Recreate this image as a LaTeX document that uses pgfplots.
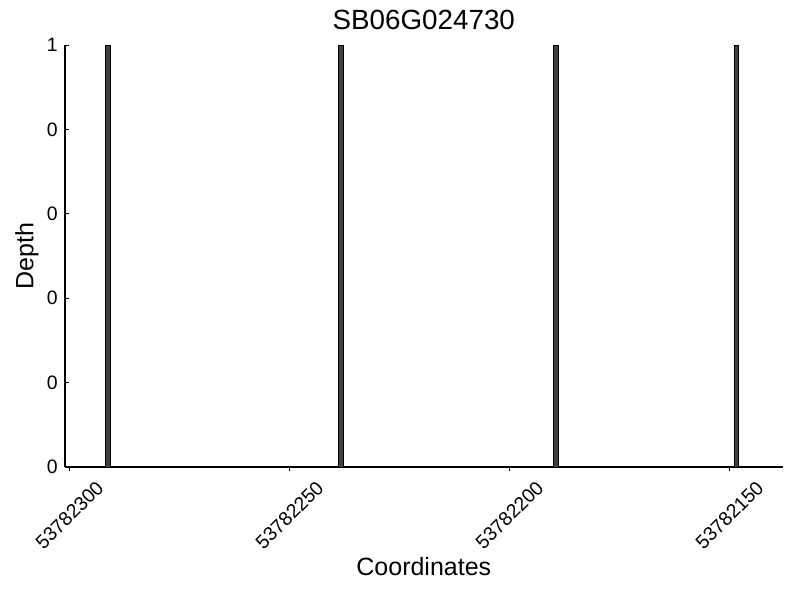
\documentclass[border=0pt]{standalone}
\usepackage{pgfplots}
\pgfplotsset{compat=1.18}
\usepackage{fontspec}
\setmainfont{Liberation Sans}
\begin{document}
\begin{tikzpicture}
\useasboundingbox (0,0) rectangle (576pt,432pt);
\begin{axis}[
  at={(46.8pt,95.76pt)}, anchor=south west,
  scale only axis, width=516.7pt, height=303.84pt,
  x dir=reverse,
  xmin=137.9, xmax=301,
  ymin=0, ymax=1,
  axis lines*=left,
  axis line style={line width=0.8pt},
  tick align=inside,
  major tick length=3pt,
  tick style={line width=0.6pt, black},
  xtick={150,200,250,300},
  xticklabels={53782150,53782200,53782250,53782300},
  ytick={0,0.2,0.4,0.6,0.8,1},
  yticklabels={0,0,0,0,0,1},
  /pgf/number format/assume math mode=true,
  ticklabel style={font=\fontsize{14}{16}\selectfont},
  xticklabel style={yshift=-31.7pt, rotate=45, anchor=center},
  yticklabel style={anchor=east, inner sep=0pt, xshift=-5pt},
  xlabel={Coordinates},
  ylabel={Depth},
  xlabel style={at={(axis description cs:0.5,-0.237)}, anchor=center, font=\fontsize{18}{21}\selectfont},
  ylabel style={at={(axis description cs:-0.053,0.5)}, rotate=0, anchor=center, font=\fontsize{18}{21}\selectfont},
  title={SB06G024730},
  title style={at={(0.5,1)}, anchor=base, inner sep=0pt, yshift=5pt, font=\fontsize{20}{24}\selectfont},
  ybar, bar width=1.1,
  clip=false,
]
\addplot[fill=black!75, draw=black, line width=0.6pt] coordinates {
  (291.3,1) (238.3,1) (189.4,1) (148.4,1)
};
\end{axis}
\end{tikzpicture}
\end{document}
